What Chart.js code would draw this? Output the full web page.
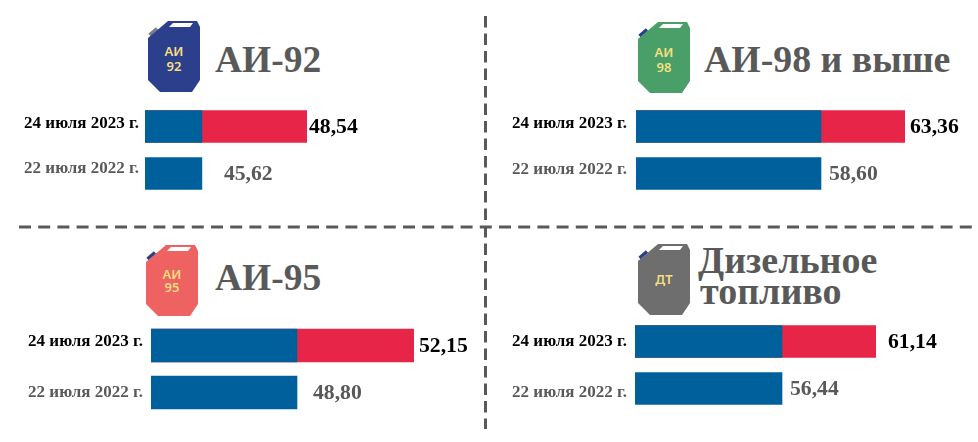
<!DOCTYPE html>
<html lang="ru">
<head>
<meta charset="utf-8">
<script src="https://cdn.jsdelivr.net/npm/chart.js@4"></script>
<style>
html,body{margin:0;padding:0;background:#fff;width:978px;height:442px;overflow:hidden}
#overlay{position:absolute;left:0;top:0}
.panel{position:absolute}
.panel canvas{display:block}
</style>
</head>
<body>
<svg id="overlay" width="978" height="442" xmlns="http://www.w3.org/2000/svg"></svg>
<div id="panels"></div>
<script>
// ---- Data ----
const categories = ['24 июля 2023 г.', '22 июля 2022 г.'];
const fuels = ['АИ-92', 'АИ-98 и выше', 'АИ-95', 'Дизельное топливо'];
const prices2023 = [48.54, 63.36, 52.15, 61.14];
const prices2022 = [45.62, 58.60, 48.80, 56.44];
const axisMins = [44.04, 48.12, 44.62, 49.09];

// ---- Layout & style ----
const BLUE = '#00609C', RED = '#E62548', GREY = '#595959', SERIF = '"Liberation Serif","Times New Roman",serif';
const panelBoxes = [
  {left:0,   barStart:145, barEnd:307, centre:126,   bar:32, tickPad:6, tickDy:[-3,-4.5],  gaps:[2,22]},
  {left:490, barStart:636, barEnd:905, centre:126,   bar:32, tickPad:9, tickDy:[-3,-3.5],  gaps:[5,8]},
  {left:0,   barStart:151, barEnd:414, centre:345.5, bar:33, tickPad:8, tickDy:[-4,0.5],   gaps:[5,16]},
  {left:490, barStart:635, barEnd:876, centre:341,   bar:32, tickPad:8, tickDy:[0,4.5],    gaps:[12,8]}
];
const ROW = 47;
const icons = [
  {x:148,y:20, fill:'#2B3F8C',cap:'#77807F',text:['АИ','92'], y1:36,  y2:51},
  {x:638,y:21, fill:'#4A9E68',cap:'#2B3F8C',text:['АИ','98'], y1:36,  y2:51},
  {x:146,y:244,fill:'#EE6262',cap:'#2B3F8C',text:['АИ','95'], y1:35,  y2:48},
  {x:638,y:243,fill:'#6E6E6E',cap:'#2B3F8C',text:['ДТ'],      y1:41}
];
const titles = [
  {lines:[['АИ-92',215,72]], size:37.5},
  {lines:[['АИ-98 и выше',704,72]], size:37.8},
  {lines:[['АИ-95',215,290]], size:37.5},
  {lines:[['Дизельное',698,273],['топливо',700,304]], size:38}
];

// ---- Static decoration: dividers, canisters, titles ----
let svg = '';
svg += `<line x1="19" y1="227" x2="978" y2="227" stroke="${GREY}" stroke-width="3" stroke-dasharray="12 7.2"/>`;
svg += `<line x1="485.5" y1="16" x2="485.5" y2="429" stroke="${GREY}" stroke-width="3" stroke-dasharray="11.5 6"/>`;
icons.forEach(ic => {
  svg += `<g transform="translate(${ic.x},${ic.y})">`;
  svg += `<line x1="1.5" y1="15" x2="9" y2="8.5" stroke="${ic.cap}" stroke-width="3.5"/>`;
  svg += `<polygon fill="${ic.fill}" points="20,1 49,1 52,7 52,60 44,72 12,72 0,60 0,18"/>`;
  svg += `<polygon fill="#fff" points="25,3 45,3 42,7 21,7"/>`;
  svg += `<text x="26" y="${ic.y1}" text-anchor="middle" font-family="'Noto Sans',sans-serif" font-weight="600" font-size="13" fill="#F6DE7E">${ic.text[0]}</text>`;
  if (ic.text[1]) svg += `<text x="26" y="${ic.y2}" text-anchor="middle" font-family="'Noto Sans',sans-serif" font-weight="600" font-size="13" fill="#F6DE7E">${ic.text[1]}</text>`;
  svg += `</g>`;
});
titles.forEach(t => t.lines.forEach(l => {
  svg += `<text x="${l[1]}" y="${l[2]}" font-family='${SERIF}' font-weight="700" font-size="${t.size}" fill="${GREY}">${l[0]}</text>`;
}));
document.getElementById('overlay').innerHTML = svg;

// ---- Plugins: per-row tick nudges and value labels ----
const rowPlugin = {
  id: 'rowPlugin',
  beforeDraw(chart, args, opts) {
    const items = chart.scales.y.getLabelItems();
    if (!items._nudged) {
      items.forEach((it, i) => { it.options.translation[1] += opts.tickDy[i]; });
      items._nudged = true;
    }
  },
  afterDatasetsDraw(chart, args, opts) {
    const {ctx, scales:{x, y}} = chart;
    opts.values.forEach((v, i) => {
      ctx.save();
      ctx.font = `bold 21.7px ${SERIF}`;
      ctx.fillStyle = i === 0 ? '#000' : GREY;
      ctx.textBaseline = 'middle';
      ctx.fillText(v.toFixed(2).replace('.', ','), x.getPixelForValue(opts.ends[i]) + opts.gaps[i], y.getPixelForValue(i) + 1);
      ctx.restore();
    });
  }
};

// ---- Charts ----
const host = document.getElementById('panels');
Chart.defaults.animation = false;
fuels.forEach((fuel, i) => {
  const b = panelBoxes[i];
  const width = 488;
  const div = document.createElement('div');
  div.className = 'panel';
  div.style.cssText = `left:${b.left}px;top:${b.centre - ROW / 2}px;width:${width}px;height:${ROW * 2}px`;
  const cv = document.createElement('canvas');
  div.appendChild(cv);
  host.appendChild(div);
  new Chart(cv, {
    type: 'bar',
    plugins: [rowPlugin],
    data: {
      labels: categories,
      datasets: [
        {label: '22 июля 2022 г.', data: [prices2022[i], prices2022[i]], backgroundColor: BLUE, grouped: false, order: 1, barThickness: b.bar},
        {label: '24 июля 2023 г.', data: [prices2023[i], null], backgroundColor: RED, grouped: false, order: 2, barThickness: b.bar}
      ]
    },
    options: {
      indexAxis: 'y',
      responsive: true,
      maintainAspectRatio: false,
      devicePixelRatio: 1,
      events: [],
      layout: {padding: {left: 0, top: 0, bottom: 0, right: (b.left + width) - b.barEnd}},
      scales: {
        x: {display: false, min: axisMins[i], max: prices2023[i]},
        y: {
          afterFit(s) { s.width = b.barStart - b.left; s.paddingTop = 0; s.paddingBottom = 0; },
          grid: {display: false, drawTicks: false},
          border: {display: false},
          ticks: {
            padding: b.tickPad,
            autoSkip: false,
            font: ctx => ({family: SERIF, weight: 'bold', size: 17}),
            color: ctx => ctx.index === 0 ? '#000' : GREY
          }
        }
      },
      plugins: {
        legend: {display: false},
        tooltip: {enabled: false},
        title: {display: false},
        rowPlugin: {
          values: [prices2023[i], prices2022[i]],
          ends: [prices2023[i], prices2022[i]],
          gaps: b.gaps,
          tickDy: b.tickDy
        }
      }
    }
  });
});
</script>
</body>
</html>
